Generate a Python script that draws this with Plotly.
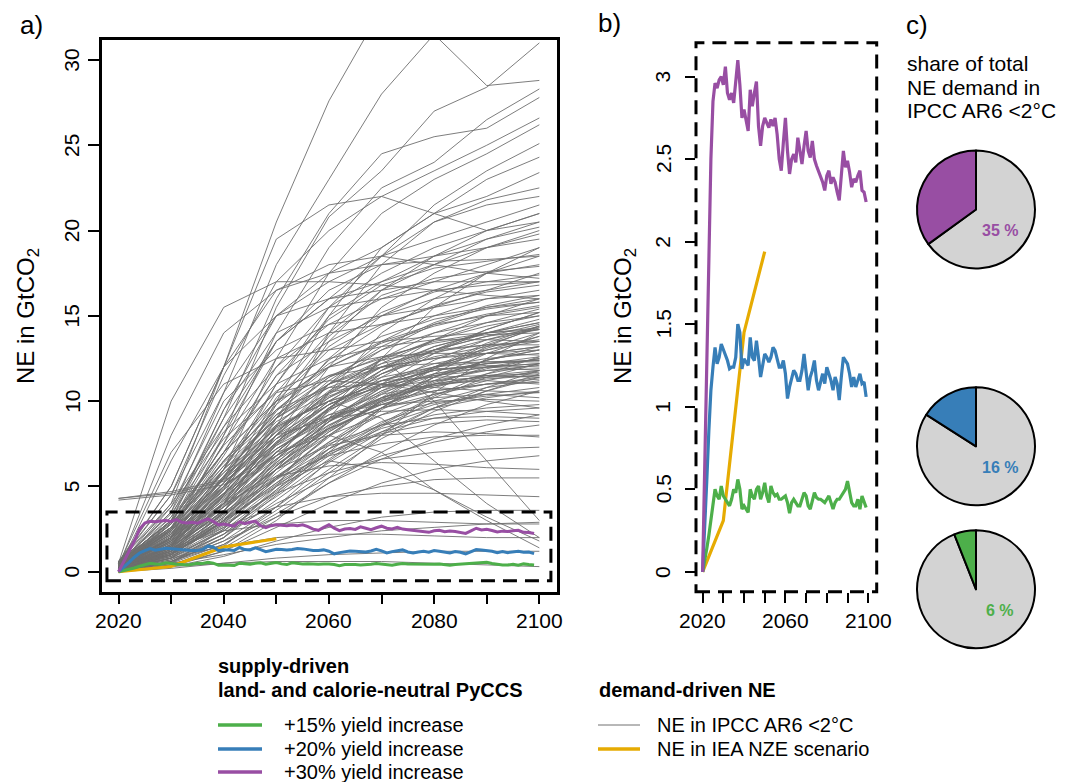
import plotly.graph_objects as go

# page is drawn with the browser's 8px body margin, so the figure is a bit smaller
OFF = 8
W, H = 1075 - OFF, 782 - OFF

# ---------------- data ----------------
# IPCC AR6 <2°C negative-emission pathways, GtCO2, decadal steps
ipcc_years = [2020, 2030, 2040, 2050, 2060, 2070, 2080, 2090, 2100]

ipcc_high = [
    [0.3, 4.0, 12.0, 20.5, 27.6, 33.0, 33.0, 33.0, 33.0],
    [0.5, 3.5, 10.5, 18.0, 23.0, 28.0, 31.5, 28.5, 28.8],
    [0.2, 2.0, 8.0, 15.5, 20.8, 23.5, 27.0, 28.4, 31.0],
    [0.4, 3.0, 9.0, 16.0, 21.0, 24.5, 25.5, 26.0, 27.8],
    [0.1, 2.5, 7.5, 14.0, 19.0, 22.5, 24.0, 26.5, 28.3],
    [0.6, 4.5, 11.5, 17.0, 20.0, 22.0, 23.5, 25.0, 26.6],
    [0.2, 1.5, 6.0, 12.5, 17.5, 21.0, 23.0, 24.5, 26.2],
    [0.3, 2.8, 8.5, 13.5, 16.0, 18.5, 21.5, 23.5, 25.1],
    [0.0, 1.0, 4.5, 10.0, 15.0, 19.0, 21.0, 23.0, 24.3],
    [0.5, 3.0, 9.5, 15.0, 17.5, 19.0, 21.0, 22.0, 23.4],
    [0.2, 1.8, 5.5, 11.0, 15.5, 18.5, 20.5, 21.8, 22.5],
    [0.1, 0.8, 3.5, 8.5, 14.0, 18.0, 20.5, 21.5, 22.0],
    [0.5, 5.0, 12.0, 19.5, 21.5, 22.0, 21.0, 20.0, 20.5],
]

ipcc_upper_mid = [
    [0.2, 2.5, 7.0, 12.0, 15.5, 17.5, 19.0, 20.0, 21.0],
    [0.4, 3.5, 9.0, 13.5, 16.0, 17.0, 18.0, 19.5, 20.5],
    [0.1, 1.2, 4.0, 8.0, 12.0, 15.5, 17.5, 19.0, 20.0],
    [0.3, 2.0, 6.0, 10.5, 14.0, 16.5, 18.0, 19.0, 19.5],
    [0.6, 4.0, 8.5, 12.0, 14.5, 16.0, 17.0, 18.0, 19.0],
    [0.2, 1.5, 5.0, 9.0, 12.5, 15.0, 16.5, 17.5, 18.5],
    [0.0, 0.8, 3.0, 6.5, 10.5, 14.0, 16.0, 17.5, 18.0],
    [0.3, 2.2, 6.5, 10.0, 13.0, 14.5, 15.5, 16.5, 17.5],
    [0.5, 3.0, 7.0, 11.5, 13.5, 15.0, 16.0, 16.5, 17.0],
    [0.1, 1.0, 3.5, 7.5, 11.0, 13.5, 15.0, 16.0, 16.5],
    [0.2, 1.8, 5.5, 9.5, 12.0, 13.5, 14.5, 15.5, 16.0],
    [0.4, 2.6, 7.5, 12.5, 14.0, 14.5, 15.0, 15.5, 15.8],
    [0.0, 0.5, 2.5, 6.0, 9.5, 12.5, 14.0, 15.0, 15.5],
    [0.3, 1.5, 4.5, 8.0, 11.0, 13.0, 14.5, 15.0, 15.2],
    [0.2, 3.8, 10.0, 13.0, 14.5, 15.0, 15.5, 16.0, 16.2],
    [0.1, 2.0, 6.0, 11.0, 15.0, 17.0, 18.5, 19.5, 20.2],
    [0.5, 4.5, 10.5, 15.0, 17.0, 18.5, 19.5, 20.5, 21.5],
    [0.3, 1.0, 4.0, 9.0, 13.5, 16.5, 18.5, 20.0, 21.0],
    [0.2, 2.8, 8.0, 13.5, 16.5, 18.0, 18.5, 19.0, 19.8],
    [0.0, 0.6, 2.0, 5.0, 9.0, 12.5, 15.5, 17.5, 19.0],
    [0.4, 2.4, 6.8, 11.5, 14.8, 16.8, 17.8, 18.2, 18.6],
    [0.2, 1.4, 4.8, 9.8, 13.8, 16.2, 17.2, 17.6, 17.9],
    [0.6, 5.0, 12.0, 16.5, 18.0, 18.5, 18.0, 17.5, 17.2],
    [0.3, 3.2, 9.5, 14.0, 15.5, 16.0, 16.5, 16.8, 17.0],
    [0.1, 1.6, 5.2, 10.2, 13.2, 15.2, 16.4, 17.0, 17.4],
    [0.3, 8.0, 14.0, 16.5, 17.5, 18.0, 18.2, 18.3, 18.5],
    [0.5, 10.0, 15.5, 17.0, 17.0, 16.8, 16.5, 16.2, 16.0],
    [0.2, 6.5, 12.0, 15.0, 16.0, 16.5, 17.0, 17.0, 17.0],
    [0.4, 7.0, 11.0, 12.5, 13.0, 13.5, 13.8, 14.0, 14.2],
]

ipcc_mid = [
    [0.2, 1.5, 4.5, 8.0, 10.5, 12.0, 12.5, 13.0, 13.5],
    [0.4, 2.5, 6.0, 9.0, 11.0, 12.0, 12.5, 12.8, 13.0],
    [0.1, 1.0, 3.0, 6.0, 8.5, 10.5, 11.5, 12.0, 12.5],
    [0.3, 2.0, 5.0, 8.5, 10.0, 11.0, 11.8, 12.2, 12.4],
    [0.0, 0.5, 2.0, 4.5, 7.0, 9.5, 11.0, 12.0, 12.2],
    [0.5, 3.0, 7.0, 10.0, 11.5, 12.0, 12.2, 12.3, 12.3],
    [0.2, 1.2, 3.8, 7.0, 9.5, 11.0, 11.8, 12.1, 12.0],
    [0.3, 1.8, 4.2, 7.5, 9.8, 11.2, 11.9, 12.0, 11.8],
    [0.1, 0.8, 2.5, 5.5, 8.0, 10.0, 11.0, 11.5, 11.6],
    [0.4, 2.2, 5.5, 8.8, 10.5, 11.2, 11.4, 11.5, 11.4],
    [0.2, 1.4, 4.0, 7.2, 9.2, 10.4, 11.0, 11.2, 11.0],
    [0.0, 0.4, 1.5, 3.8, 6.5, 8.5, 10.0, 10.8, 11.2],
    [0.3, 2.6, 6.5, 9.5, 10.8, 11.0, 10.8, 10.6, 10.5],
    [0.1, 1.1, 3.2, 6.2, 8.4, 9.6, 10.2, 10.4, 10.2],
    [0.2, 1.6, 4.6, 7.8, 9.2, 9.8, 10.0, 10.1, 10.0],
    [0.5, 3.4, 7.8, 10.5, 11.2, 11.0, 10.5, 10.0, 9.6],
    [0.1, 0.6, 2.2, 4.8, 7.0, 8.4, 9.2, 9.6, 9.8],
    [0.3, 2.0, 5.2, 8.0, 9.0, 9.4, 9.5, 9.4, 9.2],
    [0.2, 1.0, 3.0, 5.5, 7.5, 8.6, 9.0, 9.1, 9.0],
    [0.4, 2.8, 6.2, 9.0, 10.8, 12.0, 13.0, 13.8, 14.5],
    [0.2, 1.3, 4.1, 7.6, 10.0, 11.8, 13.2, 14.0, 14.8],
    [0.1, 0.9, 3.2, 6.8, 9.6, 11.6, 12.8, 13.6, 14.2],
    [0.3, 2.1, 5.6, 9.2, 11.4, 12.6, 13.4, 13.9, 14.0],
    [0.6, 3.8, 8.2, 11.0, 12.5, 13.2, 13.6, 13.6, 13.5],
    [0.0, 0.3, 1.2, 3.0, 5.5, 8.0, 10.5, 12.5, 14.0],
    [0.2, 1.7, 5.0, 8.6, 11.0, 12.4, 13.0, 13.3, 13.3],
    [0.4, 2.9, 7.4, 10.6, 12.0, 12.6, 12.8, 12.8, 12.7],
    [0.1, 1.3, 3.6, 6.6, 9.0, 10.6, 11.6, 12.2, 12.6],
    [0.3, 1.9, 4.9, 8.3, 10.3, 11.4, 12.0, 12.3, 12.4],
    [4.3, 4.6, 5.3, 7.5, 9.5, 10.8, 11.6, 12.0, 12.2],
    [4.2, 4.5, 5.1, 6.8, 8.8, 10.2, 11.0, 11.5, 11.8],
    [4.3, 4.7, 5.4, 8.0, 10.5, 12.5, 13.5, 14.0, 14.3],
]

ipcc_dense = [
    [0.3, 1.2, 3.4, 6.2, 8.6, 10.2, 11.2, 11.8, 12.1],
    [0.5, 2.3, 5.0, 7.4, 9.0, 10.0, 10.6, 11.0, 11.3],
    [0.2, 0.9, 2.6, 5.0, 7.2, 8.8, 9.8, 10.4, 10.8],
    [0.4, 1.7, 4.2, 6.8, 8.6, 9.8, 10.6, 11.0, 11.1],
    [0.1, 0.7, 2.0, 4.2, 6.4, 8.2, 9.6, 10.6, 11.4],
    [0.3, 1.4, 3.8, 6.6, 9.0, 10.8, 12.0, 12.8, 13.2],
    [0.6, 2.6, 5.4, 8.0, 9.8, 10.9, 11.5, 11.8, 11.9],
    [0.2, 1.0, 3.0, 5.8, 8.2, 10.0, 11.4, 12.4, 13.0],
    [0.4, 2.0, 4.8, 7.8, 10.2, 12.0, 13.2, 14.0, 14.6],
    [0.1, 0.5, 1.6, 3.6, 5.8, 7.8, 9.4, 10.6, 11.6],
    [0.3, 1.6, 4.4, 7.4, 9.6, 11.0, 11.8, 12.2, 12.4],
    [0.5, 3.0, 6.4, 9.2, 11.0, 12.2, 12.9, 13.3, 13.5],
    [0.2, 1.1, 3.2, 6.0, 8.4, 10.4, 11.9, 13.0, 13.8],
    [0.4, 1.9, 4.6, 7.2, 9.0, 10.2, 10.9, 11.3, 11.5],
    [0.0, 0.4, 1.4, 3.2, 5.2, 7.0, 8.6, 9.8, 10.6],
    [0.3, 1.3, 3.6, 6.4, 8.8, 10.6, 12.0, 13.1, 14.0],
    [0.6, 3.2, 7.0, 10.0, 12.0, 13.4, 14.4, 15.1, 15.6],
    [0.2, 1.5, 4.0, 7.0, 9.6, 11.6, 13.0, 14.0, 14.6],
    [0.4, 2.4, 5.8, 9.0, 11.4, 13.0, 14.0, 14.6, 15.0],
    [0.1, 0.8, 2.4, 4.8, 7.4, 9.6, 11.4, 12.8, 13.8],
    [0.3, 1.8, 4.6, 7.6, 9.8, 11.2, 12.0, 12.5, 12.8],
    [0.5, 2.2, 5.2, 8.2, 10.6, 12.4, 13.6, 14.4, 15.0],
    [0.2, 1.2, 3.4, 6.0, 8.0, 9.2, 9.9, 10.3, 10.5],
    [0.4, 2.8, 6.0, 8.6, 10.0, 10.8, 11.2, 11.4, 11.5],
    [0.1, 0.6, 1.8, 3.8, 6.0, 8.0, 9.6, 10.8, 11.8],
    [0.3, 1.5, 4.0, 7.0, 9.4, 11.4, 13.0, 14.2, 15.2],
    [0.2, 2.0, 5.6, 9.4, 12.4, 14.4, 15.6, 16.4, 16.8],
    [0.5, 2.6, 6.2, 9.8, 12.2, 13.8, 14.8, 15.4, 15.8],
    [0.1, 1.0, 2.8, 5.4, 8.0, 10.2, 12.0, 13.4, 14.4],
    [0.3, 1.2, 3.0, 5.2, 7.0, 8.2, 9.0, 9.4, 9.6],
]

ipcc_core = [
    [0.2, 1.6, 3.8, 6.0, 8.2, 10.0, 11.4, 12.4, 13.0],
    [0.4, 2.2, 4.6, 6.8, 8.4, 9.6, 10.4, 11.0, 11.4],
    [0.1, 1.0, 2.9, 5.2, 7.6, 9.6, 11.2, 12.4, 13.2],
    [0.3, 1.8, 4.0, 6.4, 8.8, 10.8, 12.4, 13.6, 14.4],
    [0.5, 2.4, 5.2, 7.8, 9.8, 11.2, 12.2, 12.8, 13.2],
    [0.2, 1.3, 3.3, 5.6, 7.6, 9.2, 10.4, 11.2, 11.8],
    [0.3, 2.0, 4.4, 6.6, 8.4, 9.8, 10.8, 11.6, 12.2],
    [0.1, 0.9, 2.4, 4.4, 6.6, 8.6, 10.2, 11.4, 12.2],
    [0.4, 2.6, 5.6, 8.2, 10.4, 12.2, 13.6, 14.6, 15.4],
    [0.2, 1.4, 3.6, 6.2, 8.8, 11.0, 12.8, 14.2, 15.2],
    [0.6, 2.9, 5.8, 8.4, 10.2, 11.6, 12.6, 13.2, 13.6],
    [0.3, 1.7, 3.9, 6.3, 8.3, 9.9, 11.1, 11.9, 12.5],
    [0.1, 1.2, 3.1, 5.5, 7.9, 10.1, 11.9, 13.3, 14.3],
    [0.4, 2.1, 4.8, 7.6, 10.0, 11.8, 13.0, 13.8, 14.2],
    [0.2, 1.5, 3.4, 5.4, 7.2, 8.6, 9.6, 10.2, 10.6],
    [0.5, 2.5, 5.0, 7.2, 8.9, 10.1, 10.9, 11.4, 11.7],
    [0.3, 1.9, 4.3, 7.0, 9.6, 11.8, 13.6, 15.0, 16.0],
    [0.2, 1.1, 2.7, 4.7, 6.8, 8.7, 10.3, 11.6, 12.6],
    [0.4, 2.3, 5.4, 8.6, 11.2, 13.2, 14.6, 15.6, 16.2],
    [0.1, 0.7, 2.2, 4.6, 7.2, 9.6, 11.6, 13.2, 14.4],
]

ipcc_low = [
    [0.1, 0.8, 2.2, 4.0, 5.5, 6.8, 7.6, 8.2, 8.6],
    [0.3, 1.5, 3.5, 5.5, 6.8, 7.5, 7.9, 8.0, 8.0],
    [0.2, 1.0, 2.8, 4.6, 5.8, 6.6, 7.0, 7.2, 7.3],
    [0.0, 0.4, 1.2, 2.6, 4.0, 5.2, 6.0, 6.5, 6.8],
    [0.4, 2.0, 4.0, 5.6, 6.2, 6.4, 6.3, 6.1, 6.0],
    [0.1, 0.6, 1.8, 3.2, 4.4, 5.0, 5.4, 5.5, 5.5],
    [0.2, 1.2, 2.6, 3.8, 4.4, 4.6, 4.6, 4.5, 4.4],
    [0.0, 0.3, 0.9, 1.8, 2.6, 3.2, 3.5, 3.6, 3.6],
    [0.3, 1.4, 2.4, 2.8, 3.0, 3.0, 2.9, 2.8, 2.8],
    [0.1, 0.5, 1.0, 1.6, 2.0, 2.4, 2.6, 2.8, 2.9],
    [0.2, 0.8, 1.5, 2.0, 2.2, 2.2, 2.1, 2.0, 2.0],
    [0.0, 0.2, 0.5, 0.8, 1.0, 1.1, 1.2, 1.2, 1.2],
    [0.1, 0.3, 0.5, 0.6, 0.6, 0.6, 0.5, 0.4, 0.3],
    [0.2, 1.6, 4.5, 7.0, 8.0, 7.0, 4.8, 3.0, 1.4],
    [0.3, 2.4, 5.5, 8.5, 10.0, 9.0, 6.5, 4.0, 2.0],
    [0.1, 1.0, 3.0, 5.0, 6.5, 6.0, 4.8, 3.2, 1.8],
    [0.5, 2.8, 6.5, 9.5, 11.5, 12.5, 10.0, 6.5, 3.0],
    [0.0, 0.6, 1.6, 3.4, 5.2, 6.6, 7.8, 8.6, 9.2],
    [0.2, 1.1, 2.9, 5.1, 6.9, 8.1, 8.7, 8.9, 8.8],
    [0.4, 1.8, 3.8, 6.0, 7.4, 8.0, 8.2, 8.1, 7.9],
]

# supply-driven land- and calorie-neutral PyCCS, annual 2020..2099
years = list(range(2020, 2100))
pyccs_15 = [0.0, 0.06, 0.14, 0.22, 0.32, 0.42, 0.50, 0.46, 0.44, 0.52,
            0.46, 0.44, 0.42, 0.40, 0.44, 0.50, 0.48, 0.56, 0.50, 0.38,
            0.40, 0.38, 0.36, 0.50, 0.46, 0.44, 0.50, 0.52, 0.44, 0.48,
            0.54, 0.46, 0.42, 0.52, 0.48, 0.46, 0.47, 0.44, 0.44, 0.45,
            0.46, 0.42, 0.355, 0.42, 0.44, 0.42, 0.40, 0.40, 0.44, 0.48,
            0.46, 0.40, 0.38, 0.44, 0.48, 0.45, 0.44, 0.44, 0.43, 0.42,
            0.44, 0.46, 0.42, 0.38, 0.42, 0.44, 0.44, 0.46, 0.48, 0.50,
            0.55, 0.48, 0.42, 0.40, 0.40, 0.44, 0.38, 0.46, 0.42, 0.39]
pyccs_20 = [0.0, 0.25, 0.55, 0.85, 1.10, 1.24, 1.36, 1.26, 1.30, 1.38,
            1.35, 1.32, 1.28, 1.23, 1.24, 1.24, 1.30, 1.50, 1.45, 1.23,
            1.29, 1.27, 1.25, 1.42, 1.30, 1.28, 1.40, 1.30, 1.18, 1.25,
            1.32, 1.30, 1.27, 1.30, 1.36, 1.34, 1.28, 1.24, 1.24, 1.28,
            1.20, 1.05, 1.12, 1.18, 1.22, 1.20, 1.16, 1.16, 1.22, 1.32,
            1.22, 1.10, 1.18, 1.22, 1.28, 1.16, 1.10, 1.16, 1.20, 1.14,
            1.24, 1.20, 1.16, 1.10, 1.18, 1.14, 1.04, 1.18, 1.30, 1.28,
            1.26, 1.20, 1.12, 1.18, 1.12, 1.16, 1.20, 1.14, 1.15, 1.06]
pyccs_30 = [0.0, 0.6, 1.2, 1.8, 2.5, 2.85, 2.96, 2.93, 2.98, 3.00,
            2.95, 3.06, 2.90, 2.86, 2.90, 2.84, 2.98, 3.10, 2.95, 2.75,
            2.80, 2.72, 2.67, 2.92, 2.82, 2.90, 2.97, 2.70, 2.58, 2.70,
            2.75, 2.72, 2.69, 2.74, 2.70, 2.75, 2.65, 2.50, 2.43, 2.60,
            2.75, 2.55, 2.41, 2.50, 2.53, 2.48, 2.63, 2.55, 2.47, 2.58,
            2.67, 2.55, 2.51, 2.61, 2.50, 2.46, 2.43, 2.40, 2.36, 2.31,
            2.40, 2.43, 2.35, 2.39, 2.36, 2.30, 2.25, 2.40, 2.55, 2.45,
            2.49, 2.42, 2.33, 2.38, 2.36, 2.40, 2.43, 2.31, 2.30, 2.24]

# IEA net zero emissions scenario
iea_years = [2020, 2030, 2040, 2050]
iea_nze = [0.0, 0.31, 1.45, 1.94]

# share of total NE demand in IPCC AR6 <2°C (%)
pie_shares = [35, 16, 6]

# tick labels
a_yticks = [0, 5, 10, 15, 20, 25, 30]
a_xlabels = [2020, 2040, 2060, 2080, 2100]
b_yticks = [0, 0.5, 1, 1.5, 2, 2.5, 3]
b_ylabels = ['0', '0.5', '1', '1.5', '2', '2.5', '3']
b_xlabels = [2020, 2060, 2100]
dec = [2020, 2030, 2040, 2050, 2060, 2070, 2080, 2090, 2100]

GREEN = '#4DAF4A'
BLUE = '#377EB8'
PURPLE = '#984EA3'
ORANGE = '#E6AB02'
GREY = '#6e6e6e'
FONT = 'Arial, Liberation Sans, sans-serif'


# target pixel (in the 1075x782 screenshot) -> paper coords
def fx(px):
    return (px - OFF) / W


def fy(py):
    return 1 - (py - OFF) / H


fig = go.Figure()

# ---- panel a: IPCC pathways (one trace, gaps between scenarios) ----
gx, gy = [], []
for grp in (ipcc_high, ipcc_upper_mid, ipcc_mid, ipcc_dense, ipcc_core, ipcc_low):
    for row in grp:
        gx += ipcc_years + [None]
        gy += row + [None]
fig.add_trace(go.Scatter(x=gx, y=gy, mode='lines', line=dict(color=GREY, width=0.9),
                         xaxis='x', yaxis='y', hoverinfo='skip', showlegend=False))

series = [(iea_years, iea_nze, ORANGE), (years, pyccs_15, GREEN),
          (years, pyccs_20, BLUE), (years, pyccs_30, PURPLE)]
for xs, ys, col in series:
    fig.add_trace(go.Scatter(x=xs, y=ys, mode='lines', line=dict(color=col, width=3),
                             xaxis='x', yaxis='y', showlegend=False))
    fig.add_trace(go.Scatter(x=xs, y=ys, mode='lines', line=dict(color=col, width=3.2),
                             xaxis='x2', yaxis='y2', showlegend=False))

# ---- panel c: pies ----
pie_cols = [PURPLE, BLUE, GREEN]
pie_y = [209.5, 446.3, 589.3]
for share, col, cy in zip(pie_shares, pie_cols, pie_y):
    r = 59
    fig.add_trace(go.Pie(values=[100 - share, share], sort=False, direction='clockwise',
                         rotation=0, textinfo='none', hoverinfo='skip', showlegend=False,
                         marker=dict(colors=['#D3D3D3', col], line=dict(color='black', width=2)),
                         domain=dict(x=[fx(976 - r), fx(976 + r)], y=[fy(cy + r), fy(cy - r)])))

tickstyle = dict(ticks='outside', tickwidth=2, tickcolor='black', showticklabels=False,
                 showgrid=False, zeroline=False, automargin=False)

fig.update_layout(
    width=W, height=H, margin=dict(l=0, r=0, t=0, b=0, autoexpand=False),
    paper_bgcolor='white', plot_bgcolor='white', showlegend=False,
    font=dict(family=FONT, color='black'),
    xaxis=dict(domain=[fx(101.7), fx(556.7)], range=[2016.8, 2103.3], tickvals=dec, ticklen=10,
               showline=True, mirror=True, linecolor='black', linewidth=2.5, **tickstyle),
    yaxis=dict(domain=[fy(591.7), fy(40)], range=[-1.17, 31.17], tickvals=a_yticks, ticklen=11,
               showline=True, mirror=True, linecolor='black', linewidth=2.5, **tickstyle),
    xaxis2=dict(domain=[fx(696), fx(876.7)], range=[2016.8, 2104.1], tickvals=dec, ticklen=10,
                showline=False, anchor='y2', **tickstyle),
    yaxis2=dict(domain=[fy(591.7), fy(42.7)], range=[-0.12, 3.205], tickvals=b_yticks, ticklen=10,
                showline=False, anchor='x2', **tickstyle),
)

shapes = []
# dashed zoom box in panel a and dashed frame of panel b
shapes.append(dict(type='rect', xref='x', yref='y', x0=2017.8, x1=2102.2, y0=-0.53, y1=3.5,
                   line=dict(color='black', width=3, dash='14px,8px'), layer='above'))
shapes.append(dict(type='rect', xref='x2 domain', yref='y2 domain', x0=0, x1=1, y0=0, y1=1,
                   line=dict(color='black', width=3, dash='14px,8px'), layer='above'))

# legend lines
leg = [(218, 262, 725, GREEN, 3.5), (218, 262, 749, BLUE, 3.5), (218, 262, 772, PURPLE, 3.5),
       (598, 640, 725, '#707070', 1), (598, 640, 749, ORANGE, 3.5)]
for x0, x1, yy, col, w in leg:
    shapes.append(dict(type='line', xref='paper', yref='paper', x0=fx(x0), x1=fx(x1),
                       y0=fy(yy), y1=fy(yy), line=dict(color=col, width=w)))
fig.update_layout(shapes=shapes)

ann = []


def txt(x, y, s, size, xanchor='left', color='black', bold=False, angle=0, xref='paper', yref='paper'):
    if bold:
        s = '<b>' + s + '</b>'
    ann.append(dict(x=fx(x) if xref == 'paper' else x, y=fy(y) if yref == 'paper' else y,
                    xref=xref, yref=yref, text=s, showarrow=False,
                    xanchor=xanchor, yanchor='middle', textangle=angle,
                    font=dict(family=FONT, size=size, color=color)))


# tick labels, R style (y labels parallel to the axis)
for v in a_yticks:
    txt(71.7, v, str(v), 21, 'center', angle=-90, yref='y')
for v in a_xlabels:
    txt(v, 620, str(v), 21, 'center', xref='x')
for v, lab in zip(b_yticks, b_ylabels):
    txt(663, v, lab, 21, 'center', angle=-90, yref='y2')
for v in b_xlabels:
    txt(v, 620, str(v), 21, 'center', xref='x2')

txt(31, 25, 'a)', 26, 'center')
txt(609, 23, 'b)', 26, 'center')
txt(917, 25, 'c)', 26, 'center')
txt(27, 316, 'NE in GtCO<sub>2</sub>', 24, 'center', angle=-90)
txt(624, 316, 'NE in GtCO<sub>2</sub>', 24, 'center', angle=-90)

txt(905, 63, 'share of total', 21)
txt(905, 87, 'NE demand in', 21)
txt(905, 111, 'IPCC AR6 <2°C', 21)

for share, col, cy in zip(pie_shares, pie_cols, pie_y):
    txt(1000, cy + 21, f'{share} %', 16, 'center', color=col, bold=True)

txt(216, 666, 'supply-driven', 20, bold=True)
txt(216, 690, 'land- and calorie-neutral PyCCS', 20, bold=True)
txt(282, 725, '+15% yield increase', 20)
txt(282, 749, '+20% yield increase', 20)
txt(282, 772, '+30% yield increase', 20)
txt(597, 690, 'demand-driven NE', 20, bold=True)
txt(655, 725, 'NE in IPCC AR6 <2°C', 20)
txt(655, 749, 'NE in IEA NZE scenario', 20)

fig.update_layout(annotations=ann)

fig.write_html('out.html')
